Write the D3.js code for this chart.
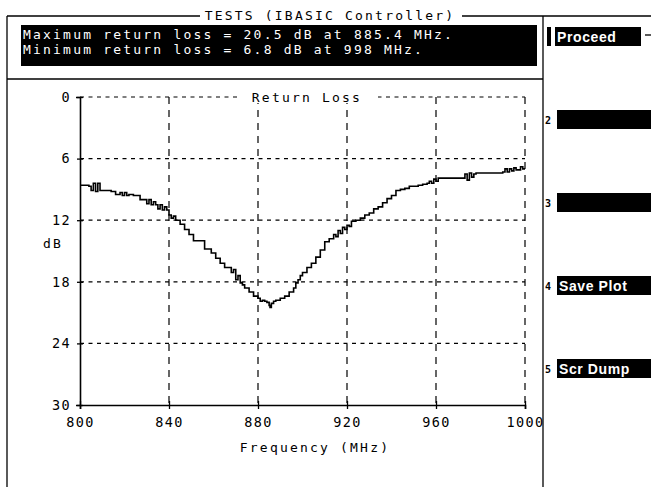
<!DOCTYPE html>
<html>
<head>
<meta charset="utf-8">
<script src="https://cdn.jsdelivr.net/npm/d3@7"></script>
<style>
  body { margin: 0; background: #fff; }
  svg { display: block; }
  .scr { font-family: "DejaVu Sans Mono", monospace; font-size: 13px; letter-spacing: 2.2px; fill: #000; }
  .key { font-family: "Liberation Sans", Arial, sans-serif; font-weight: bold; font-size: 14px; fill: #fff; letter-spacing: 0.6px; }
  .num { font-family: "DejaVu Sans Mono", monospace; font-size: 10px; font-weight: bold; fill: #000; }
</style>
</head>
<body>
<svg id="screen" width="651" height="487"></svg>
<script>
// return loss sweep
let freqs = [800, 802, 804, 805, 806, 807, 808, 809, 810, 812, 814, 816, 817, 818, 819, 820,
  821, 822, 824, 826, 827, 829, 830, 831, 832, 833, 834, 835, 836, 837, 838, 839,
  840, 841, 842, 843, 845, 847, 849, 851, 854, 856, 859, 861, 863, 865, 867, 868,
  869, 870, 871, 872, 873, 874, 876, 878, 880, 881, 882, 883, 884, 885, 885.4, 886,
  887, 888, 890, 892, 894, 896, 897, 898, 899, 900, 902, 904, 906, 908, 910, 912,
  914, 915, 916, 917, 918, 919, 920, 921, 922, 924, 926, 928, 930, 932, 934, 936,
  938, 940, 942, 944, 946, 948, 950, 952, 954, 956, 957, 958, 959, 960, 961, 962,
  964, 966, 968, 970, 972, 973, 974, 975, 976, 977, 978, 980, 982, 984, 986, 988,
  990, 991, 992, 993, 994, 995, 996, 998, 999, 1000];
let returnLoss = [8.6, 8.6, 8.7, 9.1, 8.4, 9.2, 8.4, 9.1, 9.1, 9.1, 9.2, 9.5, 9.5, 9.3, 9.6, 9.3,
  9.6, 9.5, 9.6, 9.6, 10.0, 10.0, 10.4, 10.0, 10.5, 10.2, 10.5, 10.9, 10.5, 11.0, 10.7, 11.0,
  11.5, 11.8, 11.6, 12.0, 12.4, 12.9, 13.4, 14.0, 14.0, 14.8, 15.2, 15.7, 16.2, 16.6, 16.6, 17.1,
  16.8, 17.8, 17.4, 18.1, 18.3, 18.6, 19.0, 19.4, 19.6, 19.9, 19.8, 19.9, 20.0, 20.3, 20.5, 20.1,
  19.9, 19.8, 19.6, 19.4, 19.0, 18.6, 18.1, 17.8, 17.4, 17.1, 16.6, 16.2, 15.6, 14.9, 14.1, 13.8,
  13.4, 13.6, 13.0, 13.3, 12.7, 12.9, 12.5, 12.6, 12.1, 12.0, 11.8, 11.5, 11.3, 10.9, 10.7, 10.3,
  9.9, 9.6, 9.1, 9.0, 8.9, 8.7, 8.7, 8.6, 8.5, 8.4, 8.2, 8.4, 8.0, 8.2, 7.9, 7.9,
  7.9, 7.9, 7.9, 7.9, 7.9, 7.5, 8.1, 7.4, 7.8, 7.5, 7.4, 7.4, 7.4, 7.4, 7.4, 7.4,
  7.3, 7.0, 7.3, 7.0, 7.2, 6.9, 7.1, 6.8, 7.0, 7.0];

let xTicks = [800, 840, 880, 920, 960, 1000];
let yTicks = [0, 6, 12, 18, 24, 30];

let title = "TESTS (IBASIC Controller)";
let messages = ["Maximum return loss = 20.5 dB at 885.4 MHz.",
                "Minimum return loss = 6.8 dB at 998 MHz."];
let keyLabels = ["Proceed", "", "", "Save Plot", "Scr Dump"];

let svg = d3.select('#screen');

let x = d3.scaleLinear().domain([800, 1000]).range([80, 525]);
let y = d3.scaleLinear().domain([0, 30]).range([97, 405]);

//
// frame
//
function hline(x1, x2, yy) {
  svg.append('line').attr('x1', x1).attr('x2', x2).attr('y1', yy).attr('y2', yy)
    .attr('stroke', '#000').attr('stroke-width', 1.3);
}
function vline(xx, y1, y2) {
  svg.append('line').attr('x1', xx).attr('x2', xx).attr('y1', y1).attr('y2', y2)
    .attr('stroke', '#000').attr('stroke-width', 1.3);
}

hline(7, 200, 16);
hline(462, 651, 16);
vline(7, 16, 487);
vline(543, 16, 487);
hline(7, 543, 79);

svg.append('text').attr('class', 'scr')
  .attr('x', 330).attr('y', 20).attr('text-anchor', 'middle')
  .text(title);

// message box
svg.append('rect').attr('x', 21).attr('y', 25).attr('width', 516).attr('height', 41).attr('fill', '#000');
messages.forEach(function(m, i) {
  svg.append('text').attr('class', 'scr').style('fill', '#fff')
    .attr('x', 23).attr('y', 39 + i * 15).text(m);
});

// softkeys
keyLabels.forEach(function(k, i) {
  let top = 27 + i * 83;
  if (i === 0) {
    svg.append('rect').attr('x', 547).attr('y', top).attr('width', 4).attr('height', 19).attr('fill', '#000');
    svg.append('rect').attr('x', 555).attr('y', top).attr('width', 86).attr('height', 19).attr('fill', '#000');
    hline(645, 651, top + 8);
  } else {
    svg.append('text').attr('class', 'num').attr('x', 545).attr('y', top + 14).text(i + 1);
    svg.append('rect').attr('x', 557).attr('y', top).attr('width', 94).attr('height', 19).attr('fill', '#000');
  }
  svg.append('text').attr('class', 'key')
    .attr('x', i === 0 ? 557 : 559).attr('y', top + 15).text(k);
});

//
// grid
//
let grid = svg.append('g');
grid.selectAll('.hg').data(yTicks.slice(0, -1)).enter().append('line')
  .attr('x1', x(800)).attr('x2', x(1000))
  .attr('y1', d => y(d)).attr('y2', d => y(d))
  .attr('stroke', '#000').attr('stroke-width', 1.2).attr('stroke-dasharray', '4,4.5');
grid.selectAll('.vg').data(xTicks.slice(1)).enter().append('line')
  .attr('x1', d => x(d)).attr('x2', d => x(d))
  .attr('y1', y(0)).attr('y2', y(30))
  .attr('stroke', '#000').attr('stroke-width', 1.2).attr('stroke-dasharray', '7,6');

// plot title sits on the top grid line
svg.append('rect').attr('x', 240).attr('y', y(0) - 6).attr('width', 138).attr('height', 12).attr('fill', '#fff');
svg.append('text').attr('class', 'scr')
  .attr('x', 307).attr('y', y(0) + 5).attr('text-anchor', 'middle')
  .text('Return Loss');

//
// axes
//
let yAxis = d3.axisLeft(y).tickValues(yTicks).tickSize(4).tickPadding(5);
let gy = svg.append('g').attr('transform', 'translate(' + x(800) + ',0)').call(yAxis);
let xAxis = d3.axisBottom(x).tickValues(xTicks).tickFormat(d3.format('d')).tickSize(4).tickPadding(6);
let gx = svg.append('g').attr('transform', 'translate(0,' + y(30) + ')').call(xAxis);

[gx, gy].forEach(function(g) {
  g.select('.domain').attr('stroke-width', 1.6);
  g.selectAll('.tick line').attr('stroke-width', 1.3);
  g.selectAll('.tick text').attr('class', 'scr').style('letter-spacing', '1.4px').style('font-size', '13.5px');
});
// ticks cross the axes
gy.selectAll('.tick line').attr('x2', 3).attr('x1', -3);
gx.selectAll('.tick line').attr('y1', -4).attr('y2', 4);
gx.selectAll('.tick text').attr('dy', '0.9em');

svg.append('text').attr('class', 'scr')
  .attr('x', 53).attr('y', 248).attr('text-anchor', 'middle').text('dB');
svg.append('text').attr('class', 'scr')
  .attr('x', 315).attr('y', 452).attr('text-anchor', 'middle').text('Frequency (MHz)');

//
// trace
//
let pts = freqs.map((f, i) => [f, returnLoss[i]]);
let line = d3.line().x(d => x(d[0])).y(d => y(d[1])).curve(d3.curveStepAfter);
svg.append('path').datum(pts)
  .attr('d', line)
  .attr('fill', 'none').attr('stroke', '#000').attr('stroke-width', 1.6);
</script>
</body>
</html>
